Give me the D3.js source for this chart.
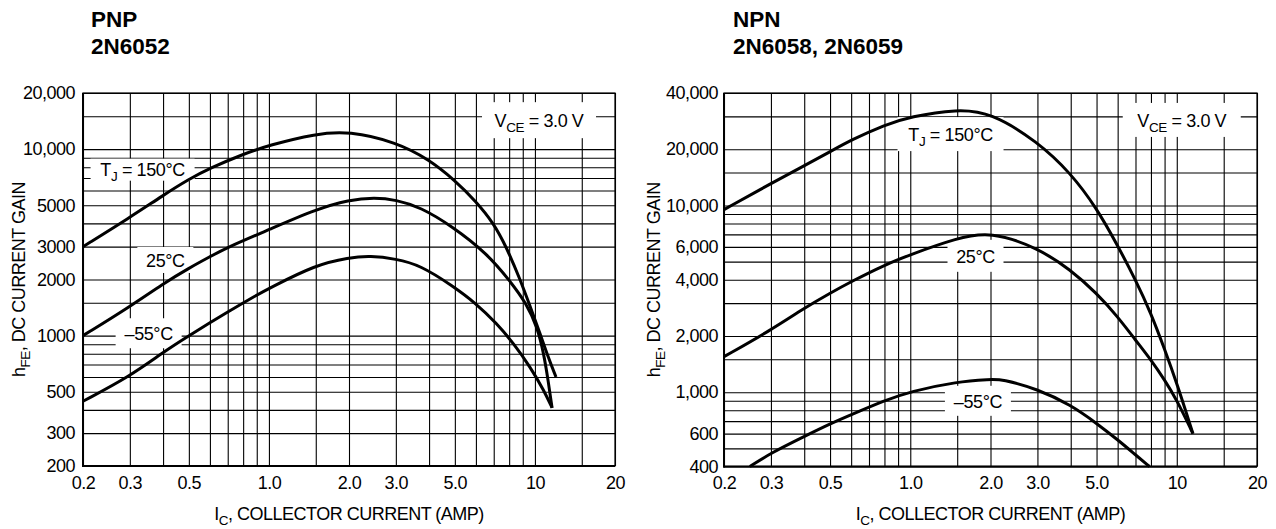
<!DOCTYPE html>
<html><head><meta charset="utf-8">
<script src="https://cdn.jsdelivr.net/npm/d3@7/dist/d3.min.js"></script>
<style>
body{margin:0;background:#fff;}
svg text{font-family:"Liberation Sans",Arial,Helvetica,sans-serif;fill:#000;}
</style></head><body>
<svg id="chart" width="1276" height="529"></svg>
<script>
// ---------- DATA ----------
const xTickValues = [0.2, 0.3, 0.5, 1.0, 2.0, 3.0, 5.0, 10, 20];
const xTickLabels = ["0.2", "0.3", "0.5", "1.0", "2.0", "3.0", "5.0", "10", "20"];
const xGridValues = [0.2,0.3,0.4,0.5,0.6,0.7,0.8,0.9,1,1.5,2,3,4,5,6,7,8,9,10,15,20];

const pnpTitle = ["PNP", "2N6052"];
const pnpYTickValues = [200, 300, 500, 1000, 2000, 3000, 5000, 10000, 20000];
const pnpYTickLabels = ["200", "300", "500", "1000", "2000", "3000", "5000", "10,000", "20,000"];
const pnpYGrid = [200,300,400,500,600,700,800,900,1000,1500,2000,3000,4000,5000,6000,7000,8000,9000,10000,15000,20000];

const npnTitle = ["NPN", "2N6058, 2N6059"];
const npnYTickValues = [400, 600, 1000, 2000, 4000, 6000, 10000, 20000, 40000];
const npnYTickLabels = ["400", "600", "1,000", "2,000", "4,000", "6,000", "10,000", "20,000", "40,000"];
const npnYGrid = [400,500,600,700,800,900,1000,1500,2000,3000,4000,5000,6000,7000,8000,9000,10000,15000,20000,30000,40000];

// PNP 2N6052 curves (IC amps, hFE)
const pnp150I = [0.2, 0.3, 0.4, 0.5, 0.6, 0.8, 1.0, 1.5, 2.0, 3.0, 4.0, 5.0, 6.0, 7.0, 7.8, 8.8, 9.6, 10.4, 11.2, 12.0];
const pnp150H = [3000, 4300, 5650, 6900, 7900, 9400, 10500, 12100, 12500, 10900, 8800, 6800, 5250, 4000, 3000, 2000, 1430, 1050, 770, 600];
const pnp25I  = [0.2, 0.3, 0.4, 0.5, 0.6, 0.7, 1.0, 1.5, 2.0, 2.5, 3.0, 3.7, 4.9, 6.6, 8.0, 9.3, 10.2, 10.8, 11.2, 11.6];
const pnp25H  = [1000, 1430, 1900, 2300, 2650, 2980, 3700, 4750, 5350, 5500, 5350, 4900, 3850, 2760, 1990, 1490, 1110, 800, 580, 410];
const pnpM55I = [0.2, 0.3, 0.4, 0.5, 0.7, 0.9, 1.0, 1.5, 2.0, 2.4, 3.0, 3.7, 4.9, 6.0, 7.2, 8.3, 9.6, 10.8, 11.6];
const pnpM55H = [445, 605, 815, 1000, 1340, 1650, 1790, 2400, 2620, 2680, 2580, 2390, 1850, 1490, 1160, 910, 680, 510, 410];

// NPN 2N6058/2N6059 curves
const npn150I = [0.2, 0.3, 0.4, 0.5, 0.6, 0.8, 1.0, 1.5, 2.0, 3.0, 4.0, 5.0, 6.0, 7.0, 8.0, 9.0, 10.0, 11.5];
const npn150H = [9500, 13100, 16300, 19400, 22400, 27000, 29900, 32800, 31500, 22000, 14900, 9700, 6100, 4000, 2650, 1700, 1120, 600];
const npn25I  = [0.2, 0.3, 0.4, 0.5, 0.6, 0.8, 1.0, 1.5, 2.0, 3.0, 4.0, 5.0, 6.0, 7.0, 8.0, 9.0, 10.0, 11.5];
const npn25H  = [1550, 2150, 2820, 3390, 3910, 4800, 5450, 6700, 7250, 5950, 4520, 3390, 2540, 1900, 1490, 1165, 910, 600];
const npnM55I = [0.25, 0.3, 0.4, 0.5, 0.6, 0.8, 1.0, 1.5, 2.0, 2.2, 3.0, 4.0, 5.0, 6.0, 7.0, 7.9];
const npnM55H = [400, 472, 579, 677, 757, 902, 1008, 1140, 1170, 1175, 1040, 855, 682, 556, 462, 400];

// curve labels: [main, subscript, rest] and anchor in data coords
const pnpLabels = [
  {parts:["T","J"," = 150°C"], I:0.335, H:7760, w:104, h:22},
  {parts:["25°C","",""], I:0.408, H:2545, w:56, h:26},
  {parts:["–55°C","",""], I:0.353, H:1030, w:66, h:30},
  {parts:["V","CE"," = 3.0 V"], I:10.36, H:14300, w:114, h:36}
];
const npnLabels = [
  {parts:["T","J"," = 150°C"], I:1.416, H:24100, w:106, h:34},
  {parts:["25°C","",""], I:1.757, H:5373, w:56, h:32},
  {parts:["–55°C","",""], I:1.794, H:899, w:66, h:30},
  {parts:["V","CE"," = 3.0 V"], I:10.44, H:28700, w:118, h:34}
];

// ---------- DRAW ----------
const svg = d3.select("#chart");
const FS = 18;

function drawPanel(cfg) {
  const x = d3.scaleLog().domain([0.2, 20]).range([cfg.x0, cfg.x1]);
  const y = d3.scaleLog().domain(cfg.yDomain).range([cfg.y1, cfg.y0]);
  const g = svg.append("g");
  const H = cfg.y1 - cfg.y0, W = cfg.x1 - cfg.x0;

  // title
  cfg.title.forEach((t, i) => {
    g.append("text").attr("x", cfg.titleX).attr("y", 27 + i * 26.5)
      .attr("font-size", 22.5).attr("font-weight", "bold").text(t);
  });

  // grid via axes
  const gx = g.append("g").attr("transform", `translate(0,${cfg.y1})`)
    .call(d3.axisBottom(x).tickValues(xGridValues).tickSize(-H).tickFormat(""));
  gx.select(".domain").remove();
  gx.selectAll("line").attr("stroke", "#000").attr("stroke-width", 1.1);
  const gy = g.append("g").attr("transform", `translate(${cfg.x0},0)`)
    .call(d3.axisLeft(y).tickValues(cfg.yGrid).tickSize(-W).tickFormat(""));
  gy.select(".domain").remove();
  gy.selectAll("line").attr("stroke", "#000").attr("stroke-width", 1.1);

  // frame
  g.append("rect").attr("x", cfg.x0).attr("y", cfg.y0).attr("width", W).attr("height", H)
    .attr("fill", "none").attr("stroke", "#000").attr("stroke-width", 1.2);
  g.append("line").attr("x1", cfg.x0).attr("x2", cfg.x0).attr("y1", cfg.y0).attr("y2", cfg.y1 + 1)
    .attr("stroke", "#000").attr("stroke-width", 2);
  g.append("line").attr("x1", cfg.x0 - 1).attr("x2", cfg.x1).attr("y1", cfg.y1).attr("y2", cfg.y1)
    .attr("stroke", "#000").attr("stroke-width", 2);

  // tick labels
  const ax = g.append("g").attr("transform", `translate(0,${cfg.y1})`)
    .call(d3.axisBottom(x).tickValues(xTickValues).tickSize(0).tickPadding(10)
      .tickFormat((d, i) => xTickLabels[i]));
  ax.select(".domain").remove();
  ax.attr("font-size", FS).attr("font-family", null);
  ax.selectAll("text").attr("letter-spacing", "-0.5px");
  const ay = g.append("g").attr("transform", `translate(${cfg.x0},0)`)
    .call(d3.axisLeft(y).tickValues(cfg.yTicks).tickSize(0).tickPadding(cfg.yPad)
      .tickFormat((d, i) => cfg.yLabels[i]));
  ay.select(".domain").remove();
  ay.attr("font-size", FS).attr("font-family", null);
  ay.selectAll("text").attr("letter-spacing", "-0.5px");

  // label boxes (white, knock out grid)
  cfg.labels.forEach(l => {
    g.append("rect").attr("x", x(l.I) - l.w / 2).attr("y", y(l.H) - l.h / 2)
      .attr("width", l.w).attr("height", l.h).attr("fill", "#fff");
  });

  // curves
  const line = d3.line().x(d => x(d[0])).y(d => y(d[1])).curve(d3.curveBasis);
  cfg.curves.forEach(c => {
    const pts = c[0].map((v, i) => [v, c[1][i]]);
    g.append("path").attr("d", line(pts)).attr("fill", "none")
      .attr("stroke", "#000").attr("stroke-width", 3).attr("stroke-linejoin", "round");
  });

  // label texts
  cfg.labels.forEach(l => {
    const t = g.append("text").attr("x", x(l.I)).attr("y", y(l.H) + 6.8)
      .attr("text-anchor", "middle").attr("font-size", FS).attr("letter-spacing", "-0.4px");
    t.append("tspan").text(l.parts[0]);
    if (l.parts[1]) {
      t.append("tspan").attr("font-size", 13.5).attr("dy", 5).text(l.parts[1]);
      t.append("tspan").attr("dy", -5).text(l.parts[2]);
    }
  });

  // axis titles
  const xt = g.append("text").attr("x", (cfg.x0 + cfg.x1) / 2).attr("y", 520)
    .attr("text-anchor", "middle").attr("font-size", FS).attr("letter-spacing", "-0.5px");
  xt.append("tspan").text("I");
  xt.append("tspan").attr("font-size", 13.5).attr("dy", 5).text("C");
  xt.append("tspan").attr("dy", -5).text(", COLLECTOR CURRENT (AMP)");

  const yt = g.append("text")
    .attr("transform", `translate(${cfg.x0 - cfg.yTitleOff},${(cfg.y0 + cfg.y1) / 2}) rotate(-90)`)
    .attr("text-anchor", "middle").attr("font-size", FS).attr("letter-spacing", "-0.5px");
  yt.append("tspan").text("h");
  yt.append("tspan").attr("font-size", 13.5).attr("dy", 5).text("FE");
  yt.append("tspan").attr("dy", -5).text(", DC CURRENT GAIN");
}

drawPanel({
  x0: 83, x1: 615, y0: 93, y1: 466, yDomain: [200, 20000],
  yTicks: pnpYTickValues, yLabels: pnpYTickLabels, yGrid: pnpYGrid, yPad: 8, yTitleOff: 58,
  title: pnpTitle, titleX: 91, labels: pnpLabels,
  curves: [[pnp150I, pnp150H], [pnp25I, pnp25H], [pnpM55I, pnpM55H]]
});
drawPanel({
  x0: 724, x1: 1257, y0: 93, y1: 466.5, yDomain: [400, 40000],
  yTicks: npnYTickValues, yLabels: npnYTickLabels, yGrid: npnYGrid, yPad: 6, yTitleOff: 64,
  title: npnTitle, titleX: 733, labels: npnLabels,
  curves: [[npn150I, npn150H], [npn25I, npn25H], [npnM55I, npnM55H]]
});
</script>
</body></html>
